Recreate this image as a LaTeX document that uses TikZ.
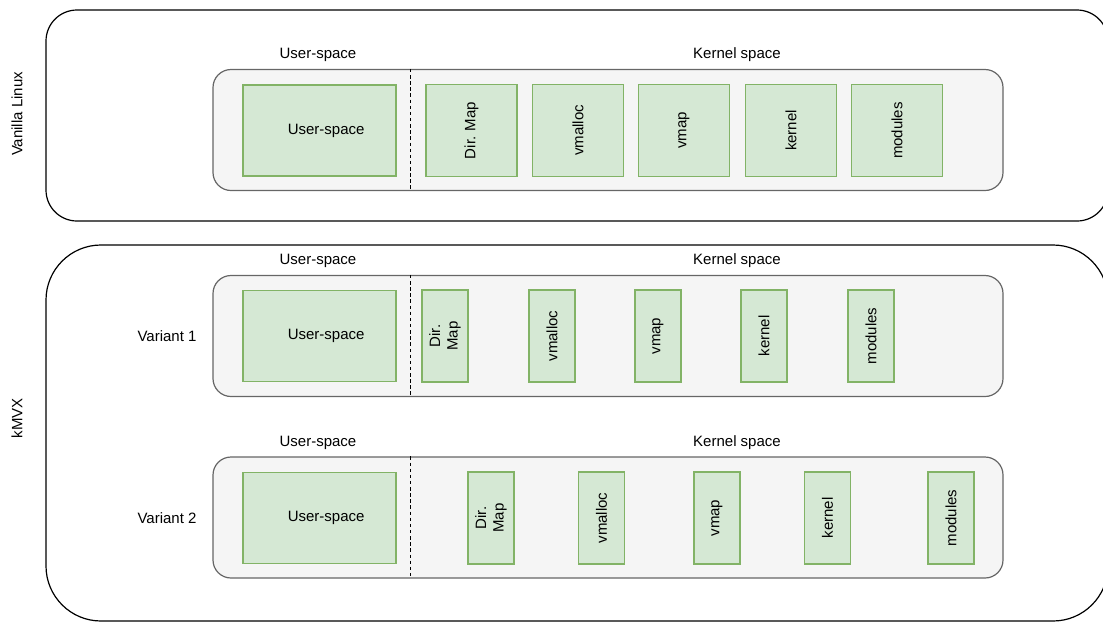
\documentclass[tikz,border=0pt]{standalone}
\usepackage{fontspec}
\setmainfont{Liberation Sans}
\definecolor{spacefill}{HTML}{F5F5F5}
\definecolor{spaceline}{HTML}{666666}
\definecolor{areafill}{HTML}{D5E8D4}
\definecolor{arealine}{HTML}{82B366}
\begin{document}
\begin{tikzpicture}[x=0.75pt,y=-0.75pt,
    every node/.style={font=\fontsize{11.25}{13}\selectfont},
    panel/.style={draw=black,line width=0.9pt},
    space/.style={draw=spaceline,fill=spacefill,line width=0.9pt,rounded corners=13.5pt,
        minimum width=592.5pt,minimum height=90.75pt},
    area/.style={draw=arealine,fill=areafill,line width=0.9pt,inner sep=0pt},
    userbox/.style={area,minimum width=114.75pt,minimum height=68.25pt},
    widebox/.style={area,rotate=90,minimum width=69pt,minimum height=68.25pt},
    slimbox/.style={area,rotate=90,minimum width=69pt,minimum height=34.5pt,align=center},
    divider/.style={line width=0.9pt,dash pattern=on 2.6pt off 2pt}]
        \useasboundingbox (0,0) rectangle (1103,622);
        %% outer panels (cut off at the right)
        \draw[panel,rounded corners=23.25pt] (46,10) rectangle (1108,221);
        \draw[panel,rounded corners=41.25pt] (46,245) rectangle (1108,621);
        \node[rotate=90] (vanilla) at (17,114) {Vanilla Linux};
        \node[rotate=90] (kmvx) at (17,418) {kMVX};
        \node (var1) at (167,336) {Variant 1};
        \node (var2) at (167,518) {Variant 2};
        %% address spaces
        \foreach \y/\n in {130/0,336/1,517.5/2} {
            \node[space] (sp\n) at (608,\y) {};
            \coordinate (cut\n) at (410.5,\y);
            \draw[divider] (cut\n |- sp\n.north) -- (cut\n |- sp\n.south);
            \node (ul\n) at (318,\y-75) {User-space};
            \node (kl\n) at (737,\y-75) {Kernel space};
        }
        %% user-space
        \foreach \y/\n in {130.5/0,336/1,518/2}
            \node[userbox] (us\n) at (319.5,\y) {\kern10pt User-space};
        %% vanilla kernel regions
        \foreach \x/\r/\t in {471.5/dm/Dir. Map,578/va/vmalloc,684/vp/vmap,791/kn/kernel,897/md/modules}
            \node[widebox] (\r0) at (\x,130.5) {\t};
        %% variant 1
        \foreach \x/\r/\t in {445/dm/Dir.\\Map,552/va/vmalloc,658/vp/vmap,764/kn/kernel,871/md/modules}
            \node[slimbox] (\r1) at (\x,336) {\t};
        %% variant 2
        \foreach \x/\r/\t in {491/dm/Dir.\\Map,601.5/va/vmalloc,717/vp/vmap,827.5/kn/kernel,951/md/modules}
            \node[slimbox] (\r2) at (\x,518) {\t};
\end{tikzpicture}
\end{document}
